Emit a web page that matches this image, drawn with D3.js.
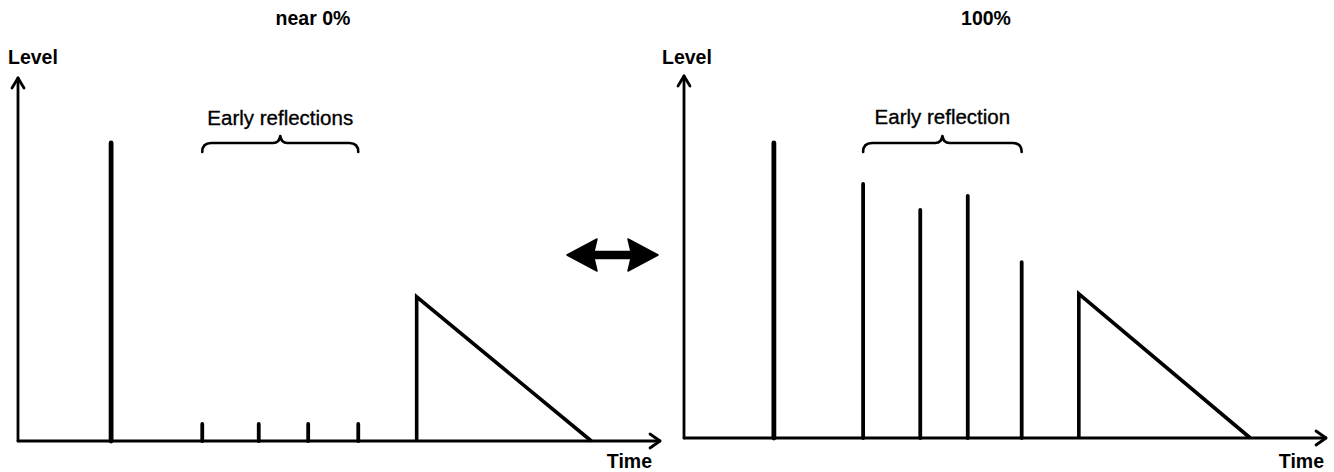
<!DOCTYPE html>
<html>
<head>
<meta charset="utf-8">
<script src="https://cdn.jsdelivr.net/npm/d3@7"></script>
<style>
  html, body { margin: 0; padding: 0; background: #fff; }
  svg { display: block; }
  text { font-family: "Liberation Sans", Arial, Helvetica, sans-serif; fill: #000; }
</style>
</head>
<body>
<svg id="chart" width="1334" height="472"></svg>
<script>
// ---- Data (time in arbitrary units 0..100, level in 0..100) ----
const panelTitles = ["near 0%", "100%"];
const reflectionLabels = ["Early reflections", "Early reflection"];
const axisLabelY = "Level";
const axisLabelX = "Time";

// Left panel (near 0%)
const leftDirect = { time: 14.5, level: 82.1 };
const leftEarlyTimes = [28.7, 37.5, 45.2, 53.0];
const leftEarlyLevels = [4.7, 4.7, 4.7, 4.7];
const leftReverb = { start: 62.1, end: 89.3, level: 39.7 };

// Right panel (100%)
const rightDirect = { time: 14.0, level: 81.5 };
const rightEarlyTimes = [27.9, 36.8, 44.2, 52.6];
const rightEarlyLevels = [70.2, 63.0, 66.9, 48.6];
const rightReverb = { start: 61.5, end: 88.2, level: 39.8 };

// ---- Layout ----
const svg = d3.select("#chart");
const panels = [
  { x0: 18, x1: 660, base: 441, top: 78, direct: leftDirect, times: leftEarlyTimes, levels: leftEarlyLevels, reverb: leftReverb,
    title: panelTitles[0], titleX: 313, label: reflectionLabels[0], labelDy: 18, levelX: 8, timeX: 652 },
  { x0: 684, x1: 1326, base: 438, top: 76, direct: rightDirect, times: rightEarlyTimes, levels: rightEarlyLevels, reverb: rightReverb,
    title: panelTitles[1], titleX: 986, label: reflectionLabels[1], labelDy: 19, levelX: 662, timeX: 1324 }
];

panels.forEach((p, i) => {
  const x = d3.scaleLinear().domain([0, 100]).range([p.x0, p.x1]);
  const y = d3.scaleLinear().domain([0, 100]).range([p.base, p.top]);
  const g = svg.append("g");

  // Axes with open arrowheads
  const ax = g.append("g").attr("stroke", "#000").attr("stroke-width", 2.8).attr("fill", "none")
    .attr("stroke-linecap", "round").attr("stroke-linejoin", "round");
  ax.append("line").attr("x1", x(0)).attr("y1", y(0)).attr("x2", x(0)).attr("y2", y(100));
  ax.append("path").attr("d", `M${x(0) - 6},${y(100) + 10} L${x(0)},${y(100)} L${x(0) + 6},${y(100) + 10}`);
  ax.append("line").attr("x1", x(0)).attr("y1", y(0)).attr("x2", x(100)).attr("y2", y(0));
  ax.append("path").attr("d", `M${x(100) - 10},${y(0) - 7} L${x(100)},${y(0)} L${x(100) - 10},${y(0) + 7}`);

  // Direct sound
  g.append("line")
    .attr("x1", x(p.direct.time)).attr("x2", x(p.direct.time))
    .attr("y1", y(0)).attr("y2", y(p.direct.level))
    .attr("stroke", "#000").attr("stroke-width", 4.8).attr("stroke-linecap", "round");

  // Early reflections
  g.selectAll("line.er").data(p.times.map((t, k) => ({ t, v: p.levels[k] })))
    .enter().append("line").attr("class", "er")
    .attr("x1", d => x(d.t)).attr("x2", d => x(d.t))
    .attr("y1", y(0)).attr("y2", d => y(d.v))
    .attr("stroke", "#000").attr("stroke-width", 3.8).attr("stroke-linecap", "round");

  // Reverb triangle
  const tri = d3.line().x(d => x(d[0])).y(d => y(d[1]));
  g.append("path")
    .attr("d", tri([[p.reverb.start, 0], [p.reverb.start, p.reverb.level], [p.reverb.end, 0]]))
    .attr("fill", "none").attr("stroke", "#000").attr("stroke-width", 3.6).attr("stroke-linejoin", "miter");

  // Brace over early reflections
  const bx0 = x(p.times[0]), bx1 = x(p.times[p.times.length - 1]);
  const by = y(p.direct.level);
  const bm = (bx0 + bx1) / 2;
  const r = 7;
  const braceD = `M${bx0},${by + 9} Q${bx0},${by} ${bx0 + r + 2},${by}` +
    ` L${bm - r},${by} Q${bm - 1},${by} ${bm},${by - 7}` +
    ` Q${bm + 1},${by} ${bm + r},${by}` +
    ` L${bx1 - r - 2},${by} Q${bx1},${by} ${bx1},${by + 9}`;
  g.append("path").attr("d", braceD).attr("fill", "none").attr("stroke", "#000")
    .attr("stroke-width", 2.6).attr("stroke-linecap", "round").attr("stroke-linejoin", "round");

  g.append("text").attr("x", bm).attr("y", by - p.labelDy)
    .attr("text-anchor", "middle").attr("font-size", 20.5)
    .attr("stroke", "#000").attr("stroke-width", 0.35)
    .text(p.label);

  // Title
  g.append("text").attr("x", p.titleX).attr("y", 25).attr("text-anchor", "middle")
    .attr("font-size", 19.5).attr("font-weight", "bold").text(p.title);

  // Axis labels
  g.append("text").attr("x", p.levelX).attr("y", 64).attr("font-size", 19.5)
    .attr("font-weight", "bold").text(axisLabelY);
  g.append("text").attr("x", p.timeX).attr("y", 468).attr("text-anchor", "end").attr("font-size", 19.5)
    .attr("font-weight", "bold").text(axisLabelX);
});

// Double-headed arrow between the panels
const ac = { x0: 567, x1: 658, cy: 255, head: 30, hh: 16, sh: 3.5 };
const arrowD = `M${ac.x0},${ac.cy} L${ac.x0 + ac.head},${ac.cy - ac.hh} L${ac.x0 + ac.head - 3},${ac.cy - ac.sh}` +
  ` L${ac.x1 - ac.head + 3},${ac.cy - ac.sh} L${ac.x1 - ac.head},${ac.cy - ac.hh} L${ac.x1},${ac.cy}` +
  ` L${ac.x1 - ac.head},${ac.cy + ac.hh} L${ac.x1 - ac.head + 3},${ac.cy + ac.sh}` +
  ` L${ac.x0 + ac.head - 3},${ac.cy + ac.sh} L${ac.x0 + ac.head},${ac.cy + ac.hh} Z`;
svg.append("path").attr("d", arrowD).attr("fill", "#000").attr("stroke", "#000")
  .attr("stroke-width", 1.5).attr("stroke-linejoin", "round");
</script>
</body>
</html>
